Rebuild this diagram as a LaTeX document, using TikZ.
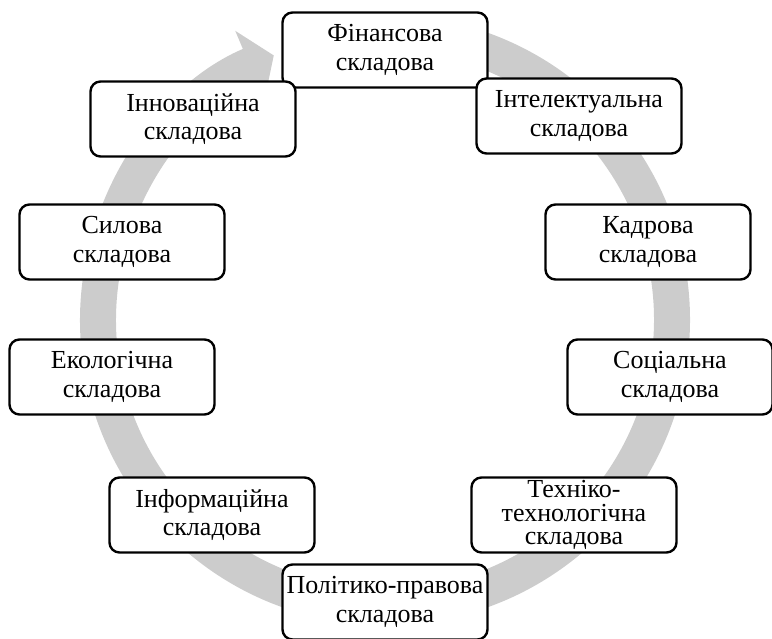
\documentclass[tikz,border=0pt]{standalone}
\usepackage{fontspec}
\setmainfont{Liberation Serif}
\usetikzlibrary{arrows.meta,calc}

\begin{document}
\begin{tikzpicture}[
  x=1pt, y=1pt,
  part/.style={draw, rounded corners=10pt, line width=2.4pt, fill=white, align=center,
    minimum width=205pt, minimum height=75pt, inner sep=2pt,
    font=\fontsize{26}{28.5}\selectfont},
  ring/.style={line width=36pt, draw=black!20, -{Triangle[length=26pt, width=74pt]}}
]
\useasboundingbox (0,0) rectangle (772,639);
\coordinate (ctr) at (385,319);
\draw[ring] ($(ctr)+(85:287pt)$) arc[start angle=85, end angle=-247.2, radius=287pt];

\node[part] (fin) at (385,589) {Фінансова\\складова};
\node[part] (intel) at (579,523) {Інтелектуальна\\складова};
\node[part] (kadr) at (648,397) {Кадрова\\складова};
\node[part] (soc) at (670,262) {Соціальна\\складова};
\node[part, inner ysep=0pt, font=\fontsize{26}{23.5}\selectfont] (tech) at (574,124) {Техніко-\\технологічна\\складова};
\node[part] (pol) at (385,37) {Політико-правова\\складова};
\node[part] (inf) at (212,124) {Інформаційна\\складова};
\node[part] (eko) at (112,262) {Екологічна\\складова};
\node[part] (sil) at (122,397) {Силова\\складова};
\node[part] (inn) at (193,520) {Інноваційна\\складова};
\end{tikzpicture}
\end{document}
